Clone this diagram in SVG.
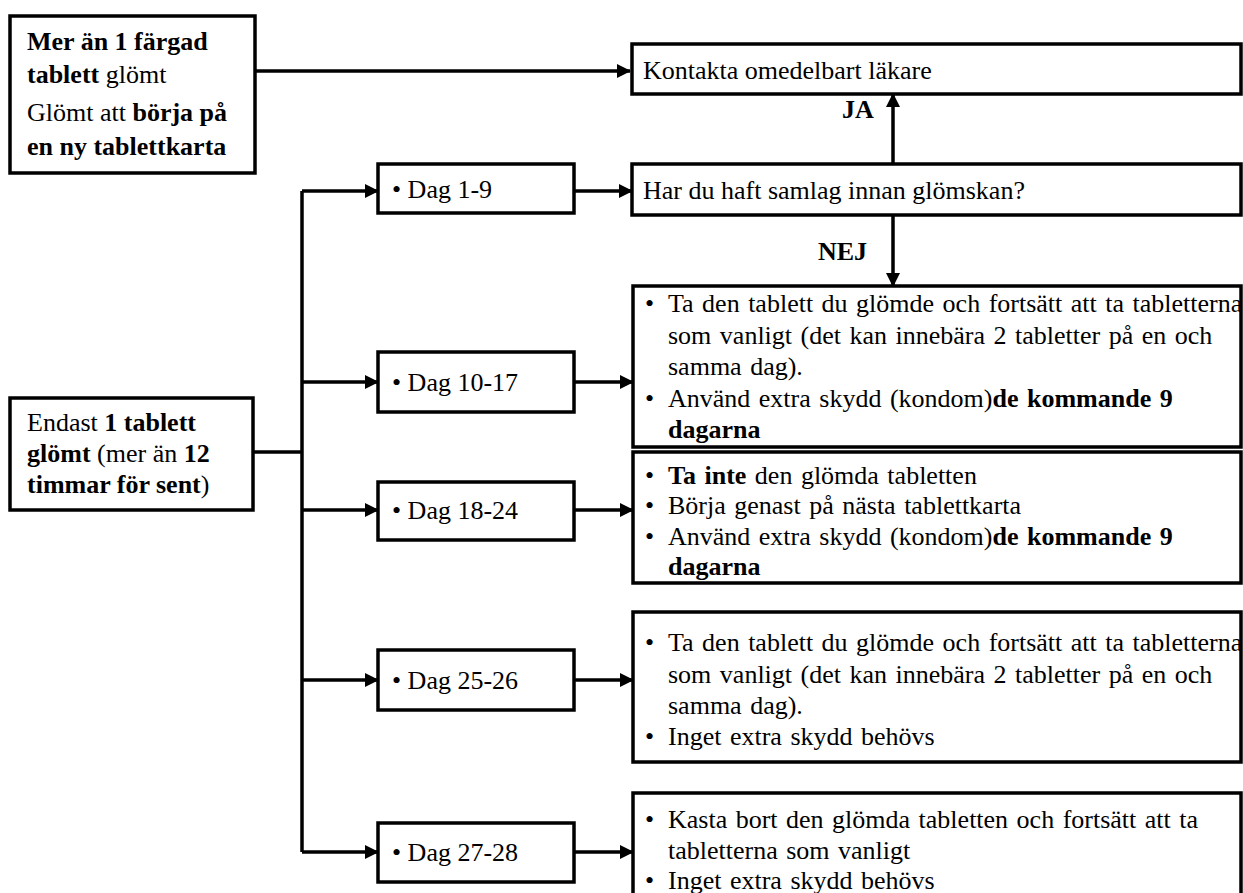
<svg xmlns="http://www.w3.org/2000/svg" width="1243" height="893" viewBox="0 0 1243 893">
<style>
.box{fill:#fff;stroke:#000;stroke-width:3.5}
.t{font-family:"Liberation Serif","Times New Roman",serif;font-size:26px;fill:#000}
.w{word-spacing:2px}
.b{font-weight:bold}
.c{fill:none;stroke:#000;stroke-width:3.5}
</style>
<defs>
<marker id="ah" markerUnits="userSpaceOnUse" markerWidth="14" markerHeight="14" refX="13" refY="7" orient="auto">
<path d="M0,0 L14,7 L0,14 z" fill="#000"/>
</marker>
</defs>
<g id="connectors">
<path class="c" d="M255,71 H630" marker-end="url(#ah)"/>
<path class="c" d="M253,452 H302"/>
<path class="c" d="M302,191 V852"/>
<path class="c" d="M302,191 H378" marker-end="url(#ah)"/>
<path class="c" d="M302,382 H378" marker-end="url(#ah)"/>
<path class="c" d="M302,510 H378" marker-end="url(#ah)"/>
<path class="c" d="M302,680 H378" marker-end="url(#ah)"/>
<path class="c" d="M302,852 H378" marker-end="url(#ah)"/>
<path class="c" d="M574,191 H632" marker-end="url(#ah)"/>
<path class="c" d="M574,382 H633" marker-end="url(#ah)"/>
<path class="c" d="M574,510 H633" marker-end="url(#ah)"/>
<path class="c" d="M574,680 H633" marker-end="url(#ah)"/>
<path class="c" d="M574,852 H633" marker-end="url(#ah)"/>
<path class="c" d="M893,164 V94" marker-end="url(#ah)"/>
<path class="c" d="M893,215 V286" marker-end="url(#ah)"/>
<text class="t b" x="842" y="118">JA</text>
<text class="t b" x="818" y="260">NEJ</text>
</g>
<g id="n-mer">
<rect class="box" x="10" y="16" width="245" height="157"/>
<text class="t b" x="27" y="50">Mer än 1 färgad</text>
<text class="t" x="27" y="83"><tspan class="b">tablett</tspan> glömt</text>
<text class="t" x="27" y="121">Glömt att <tspan class="b">börja på</tspan></text>
<text class="t b" x="27" y="155">en ny tablettkarta</text>
</g>
<g id="n-endast">
<rect class="box" x="10" y="398" width="243" height="112"/>
<text class="t" x="27" y="431">Endast <tspan class="b">1 tablett</tspan></text>
<text class="t" x="27" y="462"><tspan class="b">glömt</tspan> (mer än <tspan class="b">12</tspan></text>
<text class="t" x="27" y="493"><tspan class="b">timmar för sent</tspan>)</text>
</g>
<g id="n-kontakta">
<rect class="box" x="632" y="44" width="609" height="50"/>
<text class="t" x="643" y="79">Kontakta omedelbart läkare</text>
</g>
<g id="n-hardu">
<rect class="box" x="632" y="164" width="609" height="51"/>
<text class="t" x="643" y="199">Har du haft samlag innan glömskan?</text>
</g>
<g id="n-d1">
<rect class="box" x="378" y="164" width="196" height="49"/>
<text class="t" x="392" y="198">• Dag 1-9</text>
</g>
<g id="n-d10">
<rect class="box" x="378" y="352" width="196" height="60"/>
<text class="t" x="392" y="391">• Dag 10-17</text>
</g>
<g id="n-d18">
<rect class="box" x="378" y="482" width="196" height="58"/>
<text class="t" x="392" y="519">• Dag 18-24</text>
</g>
<g id="n-d25">
<rect class="box" x="378" y="650" width="196" height="60"/>
<text class="t" x="392" y="689">• Dag 25-26</text>
</g>
<g id="n-d27">
<rect class="box" x="378" y="823" width="196" height="59"/>
<text class="t" x="392" y="861">• Dag 27-28</text>
</g>
<g id="n-r10">
<rect class="box" x="633" y="286" width="608" height="161"/>
<text class="t" x="645" y="312">•</text>
<text class="t w" x="668" y="312">Ta den tablett du glömde och fortsätt att ta tabletterna</text>
<text class="t w" x="668" y="344">som vanligt (det kan innebära 2 tabletter på en och</text>
<text class="t w" x="668" y="375">samma dag).</text>
<text class="t" x="645" y="407">•</text>
<text class="t w" x="668" y="407">Använd extra skydd (kondom)<tspan class="b">de kommande 9</tspan></text>
<text class="t b" x="668" y="438">dagarna</text>
</g>
<g id="n-r18">
<rect class="box" x="633" y="452" width="608" height="131"/>
<text class="t" x="645" y="484">•</text>
<text class="t w" x="668" y="484"><tspan class="b">Ta inte</tspan> den glömda tabletten</text>
<text class="t" x="645" y="514">•</text>
<text class="t w" x="668" y="514">Börja genast på nästa tablettkarta</text>
<text class="t" x="645" y="545">•</text>
<text class="t w" x="668" y="545">Använd extra skydd (kondom)<tspan class="b">de kommande 9</tspan></text>
<text class="t b" x="668" y="575">dagarna</text>
</g>
<g id="n-r25">
<rect class="box" x="633" y="612" width="608" height="150"/>
<text class="t" x="645" y="651">•</text>
<text class="t w" x="668" y="651">Ta den tablett du glömde och fortsätt att ta tabletterna</text>
<text class="t w" x="668" y="683">som vanligt (det kan innebära 2 tabletter på en och</text>
<text class="t w" x="668" y="714">samma dag).</text>
<text class="t" x="645" y="745">•</text>
<text class="t w" x="668" y="745">Inget extra skydd behövs</text>
</g>
<g id="n-r27">
<rect class="box" x="633" y="793" width="608" height="110"/>
<text class="t" x="645" y="828">•</text>
<text class="t w" x="668" y="828">Kasta bort den glömda tabletten och fortsätt att ta</text>
<text class="t w" x="668" y="859">tabletterna som vanligt</text>
<text class="t" x="645" y="889">•</text>
<text class="t w" x="668" y="889">Inget extra skydd behövs</text>
</g>
</svg>
